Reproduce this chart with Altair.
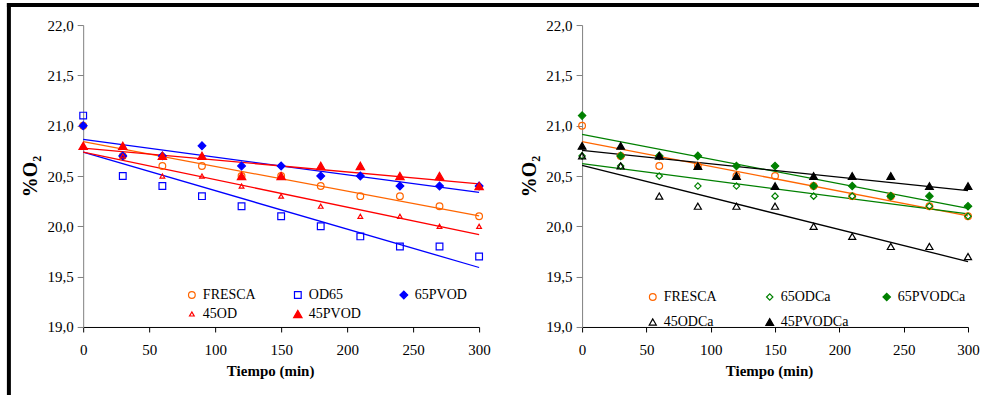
import altair as alt
import pandas as pd

# ---- data ----
tiempo = [0, 30, 60, 90, 120, 150, 180, 210, 240, 270, 300]

fresca = [21.0, 20.7, 20.6, 20.6, 20.5, 20.5, 20.4, 20.3, 20.3, 20.2, 20.1]
od65 = [21.1, 20.5, 20.4, 20.3, 20.2, 20.1, 20.0, 19.9, 19.8, 19.8, 19.7]
pvod65 = [21.0, 20.7, 20.7, 20.8, 20.6, 20.6, 20.5, 20.5, 20.4, 20.4, 20.4]
od45 = [20.8, 20.7, 20.5, 20.5, 20.4, 20.3, 20.2, 20.1, 20.1, 20.0, 20.0]
pvod45 = [20.8, 20.8, 20.7, 20.7, 20.5, 20.5, 20.6, 20.6, 20.5, 20.5, 20.4]

odca65 = [20.7, 20.6, 20.5, 20.4, 20.4, 20.3, 20.3, 20.3, 20.3, 20.2, 20.1]
pvodca65 = [21.1, 20.7, 20.7, 20.7, 20.6, 20.6, 20.4, 20.4, 20.3, 20.3, 20.2]
odca45 = [20.7, 20.6, 20.3, 20.2, 20.2, 20.2, 20.0, 19.9, 19.8, 19.8, 19.7]
pvodca45 = [20.8, 20.8, 20.7, 20.6, 20.5, 20.4, 20.5, 20.5, 20.5, 20.4, 20.4]

left_series = ["FRESCA", "OD65", "65PVOD", "45OD", "45PVOD"]
left_values = [fresca, od65, pvod65, od45, pvod45]
right_series = ["FRESCA", "65ODCa", "65PVODCa", "45ODCa", "45PVODCa"]
right_values = [fresca, odca65, pvodca65, odca45, pvodca45]

x_ticks = [0, 50, 100, 150, 200, 250, 300]
y_ticks = [19.0, 19.5, 20.0, 20.5, 21.0, 21.5, 22.0]

# ---- styles ----
ORANGE, BLUE, RED, GREEN, BLACK = "#FF6600", "#0000FF", "#FF0000", "#008000", "#000000"
left_style = dict(
    colors=[ORANGE, BLUE, BLUE, RED, RED],
    shapes=["circle", "square", "diamond", "triangle-up", "triangle-up"],
    fills=["transparent", "transparent", BLUE, "transparent", RED],
    sizes=[45, 45, 60, 22, 70],
)
right_style = dict(
    colors=[ORANGE, GREEN, GREEN, BLACK, BLACK],
    shapes=["circle", "diamond", "diamond", "triangle-up", "triangle-up"],
    fills=["transparent", "transparent", GREEN, "transparent", BLACK],
    sizes=[45, 40, 55, 50, 60],
)

FONT = "Times New Roman, Liberation Serif, DejaVu Serif, serif"


def panel(series, values, style, width, leg_x, leg_y, col_pad, row_pad, border=False):
    df = pd.DataFrame(
        [{"serie": s, "t": t, "o2": v} for s, vals in zip(series, values) for t, v in zip(tiempo, vals)]
    )
    x = alt.X("t:Q", scale=alt.Scale(domain=[0, 300], nice=False),
              axis=alt.Axis(values=x_ticks, title="Tiempo (min)", titleX=187, labelFlush=False))
    y = alt.Y("o2:Q", scale=alt.Scale(domain=[19, 22], nice=False, zero=False),
              axis=alt.Axis(values=y_ticks, title="%O₂", labelFlush=False,
                            labelExpr="replace(format(datum.value, '.1f'), '.', ',')"))
    base = alt.Chart(df)
    layers = []
    for s, c in zip(series, style["colors"]):
        layers.append(
            base.transform_filter(alt.datum.serie == s)
            .transform_regression("t", "o2", extent=[0, 300])
            .mark_line(strokeWidth=1.3, color=c)
            .encode(x=x, y=y)
        )
    leg = alt.Legend(
        title=None, orient="none", legendX=leg_x, legendY=leg_y, columns=3, direction="horizontal",
        columnPadding=col_pad, rowPadding=row_pad, gridAlign="all", padding=0,
        labelFont=FONT, labelFontSize=14, labelColor="black", labelOffset=4,
        symbolStrokeWidth=1.2,
    )
    points = base.mark_point(strokeWidth=1.2, opacity=1).encode(
        x=x, y=y,
        shape=alt.Shape("serie:N", scale=alt.Scale(domain=series, range=style["shapes"]), legend=leg),
        stroke=alt.Stroke("serie:N", scale=alt.Scale(domain=series, range=style["colors"]), legend=leg),
        fill=alt.Fill("serie:N", scale=alt.Scale(domain=series, range=style["fills"]), legend=leg),
        size=alt.Size("serie:N", scale=alt.Scale(type="ordinal", domain=series, range=style["sizes"]),
                      legend=leg),
    )
    layers.append(points)
    if border:
        one = pd.DataFrame({"k": [0]})
        left_line = alt.Chart(one).mark_rule(color="black", strokeWidth=4).encode(
            x=alt.value(-74.3), y=alt.value(-22), y2=alt.value(370))
        top_line = alt.Chart(one).mark_rule(color="black", strokeWidth=4).encode(
            x=alt.value(-76.3), x2=alt.value(896), y=alt.value(-20))
        layers += [left_line, top_line]
    return alt.layer(*layers).properties(width=width, height=302)


left = panel(left_series, left_values, left_style, 396, 101.7, 263, 35, 5, border=True)
right = panel(right_series, right_values, right_style, 386, 63.7, 265, 31, 11)

chart = alt.hconcat(left, right, spacing=103, bounds="flush").resolve_scale(
    shape="independent", stroke="independent", fill="independent", size="independent"
).properties(
    padding={"left": 4.2, "top": 1, "right": 0, "bottom": 0}
).configure_view(strokeWidth=0).configure_axis(
    labelFont=FONT, labelFontSize=15, labelColor="black",
    titleFont=FONT, titleFontWeight="bold", titleColor="black", grid=False,
).configure_axisX(
    domainColor="black", tickColor="black", tickSize=5, labelPadding=11,
    titleFontSize=15, titlePadding=6,
).configure_axisY(
    domainColor="#808080", tickColor="#808080", tickSize=6, labelPadding=4,
    titleFontSize=20, titlePadding=6,
)

chart.save("out.html", embed_options={"renderer": "svg", "actions": False})
